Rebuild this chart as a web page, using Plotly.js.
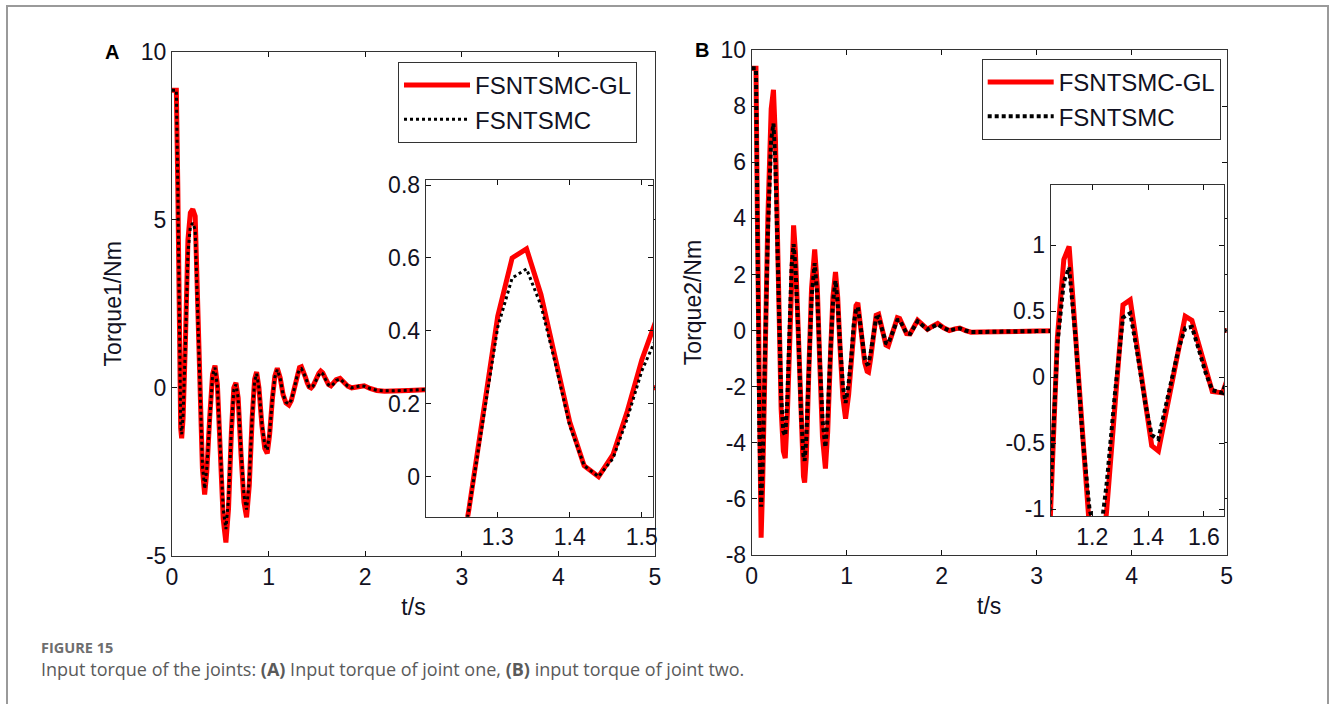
<!DOCTYPE html>
<html><head><meta charset="utf-8">
<script src="https://cdn.plot.ly/plotly-3.0.1.min.js"></script>
<style>html,body{margin:0;padding:0;background:#fff;overflow:hidden}#chart{width:1330px;height:704px}</style>
</head><body><div id="chart"></div>
<script>
// ---------- data ----------
const seriesNames = ['FSNTSMC-GL', 'FSNTSMC'];

const tA = [0,0.045,0.06,0.075,0.09,0.10,0.115,0.14,0.165,0.19,0.215,0.24,0.265,0.29,0.315,0.338,0.36,0.39,0.42,0.445,0.47,0.50,0.53,0.558,0.585,0.615,0.64,0.662,0.685,0.715,0.745,0.772,0.80,0.83,0.855,0.876,0.90,0.93,0.96,0.986,1.01,1.04,1.065,1.09,1.12,1.15,1.18,1.21,1.235,1.26,1.30,1.32,1.34,1.36,1.38,1.40,1.42,1.44,1.46,1.48,1.50,1.52,1.54,1.56,1.59,1.62,1.645,1.67,1.70,1.74,1.78,1.82,1.86,1.90,1.95,1.99,2.05,2.12,2.2,2.3,2.45,2.62,3.0,3.5,4.0,4.5,5.0];
const redA = [8.85,8.85,6.0,1.5,-1.2,-1.5,-0.9,1.5,4.4,5.2,5.31,5.1,2.8,0.0,-2.4,-3.17,-2.5,-0.9,0.4,0.66,0.1,-1.9,-3.9,-4.6,-3.6,-1.3,0.0,0.15,-0.3,-2.0,-3.4,-3.85,-2.9,-0.9,0.25,0.47,0.0,-1.1,-1.8,-1.95,-1.4,-0.3,0.35,0.58,0.3,-0.2,-0.45,-0.51,-0.38,-0.09,0.44,0.60,0.625,0.50,0.33,0.15,0.03,0.0,0.06,0.18,0.32,0.43,0.50,0.45,0.27,0.10,0.06,0.12,0.24,0.28,0.17,0.05,0.0,0.02,0.07,0.06,-0.02,-0.08,-0.1,-0.1,-0.08,-0.06,-0.04,-0.02,-0.01,0,0];
const blackA = [8.85,8.85,6.0,1.5,-1.1,-1.38,-0.8,1.4,4.0,4.8,4.9,4.7,2.6,0.0,-2.3,-3.0,-2.4,-0.85,0.38,0.6,0.05,-1.8,-3.6,-4.2,-3.3,-1.2,-0.05,0.1,-0.3,-1.9,-3.2,-3.62,-2.75,-0.85,0.2,0.42,0.0,-1.05,-1.7,-1.85,-1.35,-0.3,0.32,0.54,0.28,-0.2,-0.43,-0.48,-0.36,-0.09,0.41,0.545,0.57,0.47,0.31,0.14,0.03,0.0,0.05,0.16,0.29,0.38,0.46,0.42,0.25,0.09,0.05,0.11,0.22,0.26,0.16,0.05,0.0,0.02,0.06,0.05,-0.02,-0.07,-0.09,-0.09,-0.07,-0.05,-0.04,-0.02,-0.01,0,0];

const tB = [0,0.045,0.06,0.08,0.099,0.115,0.14,0.17,0.205,0.229,0.25,0.28,0.31,0.333,0.353,0.375,0.40,0.42,0.441,0.46,0.49,0.52,0.545,0.557,0.575,0.60,0.63,0.663,0.69,0.715,0.745,0.776,0.80,0.83,0.855,0.882,0.905,0.93,0.96,0.988,1.02,1.05,1.075,1.098,1.117,1.14,1.165,1.19,1.215,1.23,1.252,1.28,1.31,1.336,1.36,1.39,1.413,1.437,1.46,1.49,1.51,1.533,1.557,1.58,1.605,1.63,1.667,1.70,1.746,1.80,1.85,1.90,1.958,2.02,2.08,2.14,2.19,2.25,2.31,2.4,2.6,3.0,3.5,4.0,4.5,5.0];
const redB = [9.35,9.35,4.0,-4.0,-7.38,-5.5,-1.0,4.0,7.9,8.58,6.8,1.5,-2.8,-4.3,-4.55,-3.0,0.0,2.8,3.75,2.8,0.0,-3.5,-5.2,-5.42,-4.5,-1.6,1.5,2.89,1.6,-1.0,-3.8,-4.92,-3.6,-0.8,1.2,2.09,1.2,-0.6,-2.4,-3.14,-2.3,-1.05,0.3,0.89,0.99,0.31,-0.43,-1.15,-1.45,-1.48,-1.0,-0.27,0.547,0.585,0.24,-0.19,-0.52,-0.56,-0.32,0.0,0.21,0.46,0.43,0.26,0.075,-0.11,-0.12,0.1,0.37,0.2,0.04,0.15,0.25,0.1,0.0,0.06,0.09,0.0,-0.06,-0.05,-0.03,-0.02,0,0,0,0];
const blackB = [9.35,9.35,4.0,-3.5,-6.28,-4.8,-0.9,3.5,6.8,7.38,5.9,1.3,-2.4,-3.6,-3.75,-2.5,0.0,2.3,3.08,2.3,0.0,-3.0,-4.45,-4.64,-3.85,-1.4,1.2,2.4,1.3,-0.9,-3.2,-4.16,-3.05,-0.7,1.0,1.78,1.0,-0.5,-2.0,-2.58,-1.9,-0.9,0.25,0.72,0.83,0.3,-0.45,-1.0,-1.2,-1.18,-0.8,-0.15,0.45,0.484,0.2,-0.2,-0.44,-0.47,-0.25,0.05,0.22,0.37,0.38,0.22,0.04,-0.1,-0.12,0.08,0.33,0.18,0.04,0.13,0.22,0.09,0.0,0.05,0.08,0.0,-0.05,-0.05,-0.03,-0.02,0,0,0,0];

const mainTicksX = [0,1,2,3,4,5];
const mainTicksYA = [-5,0,5,10];
const mainTicksYB = [-8,-6,-4,-2,0,2,4,6,8,10];
const insetTicksXA = [1.3,1.4,1.5];
const insetTicksYA = [0,0.2,0.4,0.6,0.8];
const insetTicksXB = [1.2,1.4,1.6];
const insetTicksYB = [-1,-0.5,0,0.5,1];

// ---------- styling ----------
const W = 1330, H = 704;
const FONT = 'Arial, Liberation Sans, sans-serif';
const px = v => v / W;
const py = v => 1 - v / H;

function axis(domain, range, tickvals, extra) {
  return Object.assign({
    domain: domain, range: range, tickmode: 'array', tickvals: tickvals,
    ticktext: tickvals.map(String), ticks: 'inside', ticklen: 5, tickwidth: 1,
    tickcolor: '#111', showline: true, linecolor: '#333', linewidth: 1,
    mirror: 'ticks', showgrid: false, zeroline: false, fixedrange: true,
    tickfont: {family: FONT, size: 23, color: '#111122'}
  }, extra || {});
}

const redLine = {color: '#ff0000', width: 5};
const blackLineA = {color: '#000000', width: 3, dash: 'dot'};
const blackLineB = {color: '#000000', width: 4, dash: '4px,3px'};

const traces = [
  {x: tA, y: redA, xaxis: 'x', yaxis: 'y', mode: 'lines', line: redLine, name: seriesNames[0], legend: 'legend'},
  {x: tA, y: blackA, xaxis: 'x', yaxis: 'y', mode: 'lines', line: blackLineA, name: seriesNames[1], legend: 'legend'},
  {x: tA, y: redA, xaxis: 'x2', yaxis: 'y2', mode: 'lines', line: redLine, name: seriesNames[0], showlegend: false},
  {x: tA, y: blackA, xaxis: 'x2', yaxis: 'y2', mode: 'lines', line: blackLineA, name: seriesNames[1], showlegend: false},
  {x: tB, y: redB, xaxis: 'x3', yaxis: 'y3', mode: 'lines', line: redLine, name: seriesNames[0], legend: 'legend2'},
  {x: tB, y: blackB, xaxis: 'x3', yaxis: 'y3', mode: 'lines', line: blackLineB, name: seriesNames[1], legend: 'legend2'},
  {x: tB, y: redB, xaxis: 'x4', yaxis: 'y4', mode: 'lines', line: redLine, name: seriesNames[0], showlegend: false},
  {x: tB, y: blackB, xaxis: 'x4', yaxis: 'y4', mode: 'lines', line: blackLineB, name: seriesNames[1], showlegend: false}
];

const titleFont = {family: FONT, size: 23, color: '#111122'};
const legendBase = {
  xanchor: 'left', yanchor: 'top', bgcolor: '#ffffff', bordercolor: '#333',
  borderwidth: 1, font: {family: FONT, size: 24, color: '#111122'},
  itemwidth: 66, tracegroupgap: 0
};

const layout = {
  width: W, height: H,
  margin: {l: 0, r: 0, t: 0, b: 0},
  paper_bgcolor: '#ffffff', plot_bgcolor: '#ffffff',
  showlegend: true,
  xaxis: axis([px(172), px(655)], [0, 5], mainTicksX, {anchor: 'y', title: {text: 't/s', font: titleFont, standoff: 10}}),
  yaxis: axis([1 - 556 / H, 1 - 51.5 / H], [-5, 10], mainTicksYA, {anchor: 'x', title: {text: 'Torque1/Nm', font: titleFont, standoff: 12}}),
  xaxis2: axis([px(425.7), px(653.3)], [1.2, 1.516], insetTicksXA, {anchor: 'y2'}),
  yaxis2: axis([1 - 516.7 / H, 1 - 180 / H], [-0.11, 0.814], insetTicksYA, {anchor: 'x2'}),
  xaxis3: axis([px(751.7), px(1226.7)], [0, 5], mainTicksX, {anchor: 'y3', title: {text: 't/s', font: titleFont, standoff: 10}}),
  yaxis3: axis([1 - 555 / H, 1 - 50 / H], [-8, 10], mainTicksYB, {anchor: 'x3', title: {text: 'Torque2/Nm', font: titleFont, standoff: 12}}),
  xaxis4: axis([px(1050.7), px(1224)], [1.051, 1.672], insetTicksXB, {anchor: 'y4'}),
  yaxis4: axis([1 - 516 / H, 1 - 185 / H], [-1.053, 1.455], insetTicksYB, {anchor: 'x4'}),
  legend: Object.assign({x: px(398), y: py(62)}, legendBase),
  legend2: Object.assign({x: px(981.7), y: py(59)}, legendBase),
  shapes: [
    {type: 'rect', xref: 'paper', yref: 'paper', x0: px(7), x1: px(1328), y0: -0.2, y1: py(6),
     line: {color: '#9a9a9a', width: 2}, fillcolor: 'rgba(0,0,0,0)', layer: 'below'}
  ],
  annotations: [
    {text: '<b>A</b>', xref: 'paper', yref: 'paper', x: px(112), y: py(52), xanchor: 'center', yanchor: 'middle',
     showarrow: false, font: {family: FONT, size: 20, color: '#000'}},
    {text: '<b>B</b>', xref: 'paper', yref: 'paper', x: px(702), y: py(50), xanchor: 'center', yanchor: 'middle',
     showarrow: false, font: {family: FONT, size: 20, color: '#000'}},
    {text: '<b>FIGURE 15</b>', xref: 'paper', yref: 'paper', x: px(39), y: py(647), xanchor: 'left', yanchor: 'middle',
     showarrow: false, font: {family: 'Open Sans, sans-serif', size: 14.5, color: '#6e6e6e'}},
    {text: 'Input torque of the joints: <b>(A)</b> Input torque of joint one, <b>(B)</b> input torque of joint two.',
     xref: 'paper', yref: 'paper', x: px(39), y: py(669), xanchor: 'left', yanchor: 'middle',
     showarrow: false, font: {family: 'Open Sans, sans-serif', size: 18, color: '#5a5a5a'}}
  ]
};

Plotly.newPlot('chart', traces, layout, {displayModeBar: false, staticPlot: true});
</script>
</body></html>
